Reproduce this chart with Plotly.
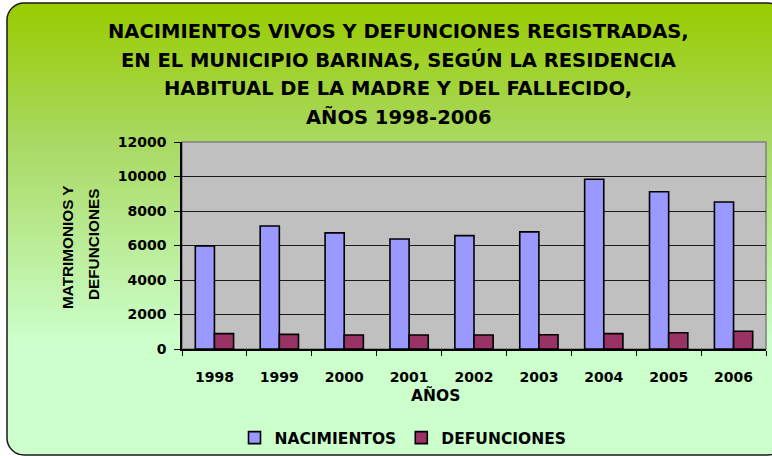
import base64
import plotly.graph_objects as go

# ---- data ----
years = ["1998", "1999", "2000", "2001", "2002", "2003", "2004", "2005", "2006"]
nacimientos = [5980, 7130, 6730, 6380, 6570, 6790, 9840, 9120, 8520]
defunciones = [890, 850, 810, 810, 810, 830, 890, 940, 1030]
series_names = ["NACIMIENTOS", "DEFUNCIONES"]
title_lines = [
    "NACIMIENTOS VIVOS Y DEFUNCIONES REGISTRADAS,",
    "EN EL MUNICIPIO BARINAS, SEGÚN LA RESIDENCIA",
    "HABITUAL DE LA MADRE Y DEL FALLECIDO,",
    "AÑOS 1998-2006",
]
ytitle_lines = ["MATRIMONIOS Y", "DEFUNCIONES"]
xtitle = "AÑOS"

# ---- layout geometry (pixels) ----
W, H = 772, 456
L, R, T, B = 182, 6, 142, 107
PW, PH = W - L - R, H - T - B


def px_x(px):
    return (px - L) / PW


def px_y(py):
    return (H - B - py) / PH


svg = f'''<svg xmlns="http://www.w3.org/2000/svg" width="{W}" height="{H}" viewBox="0 0 {W} {H}" preserveAspectRatio="none">
<defs><linearGradient id="g" x1="0" y1="0" x2="0" y2="1">
<stop offset="0" stop-color="#99cc00"/>
<stop offset="0.3" stop-color="#a8d860"/>
<stop offset="0.75" stop-color="#ccffcc"/>
<stop offset="1" stop-color="#ccffcc"/>
</linearGradient></defs>
<rect x="7" y="3" width="778" height="452" rx="17" ry="17" fill="url(#g)" stroke="#1a1a1a" stroke-width="1.5"/>
</svg>'''
src = "data:image/svg+xml;base64," + base64.b64encode(svg.encode()).decode()

fig = go.Figure()
fig.add_trace(go.Bar(x=years, y=nacimientos, name=series_names[0],
                     marker=dict(color="#9999ff", line=dict(color="black", width=1.6))))
fig.add_trace(go.Bar(x=years, y=defunciones, name=series_names[1],
                     marker=dict(color="#993366", line=dict(color="black", width=1.6))))

annotations = []
title_y = [31, 60, 88, 117]
for txt, yy in zip(title_lines, title_y):
    annotations.append(dict(text=txt, x=px_x(398), y=px_y(yy), xref="paper", yref="paper",
                            xanchor="center", yanchor="middle", showarrow=False,
                            font=dict(family="DejaVu Sans", size=19.5, color="black", weight="bold")))
for txt, xx, yy in zip(ytitle_lines, [67, 93], [247, 245]):
    annotations.append(dict(text=txt, x=px_x(xx), y=px_y(yy), xref="paper", yref="paper",
                            xanchor="center", yanchor="middle", showarrow=False, textangle=-90,
                            font=dict(family="Liberation Sans", size=15.3,
                                      color="black", weight="bold")))
annotations.append(dict(text=xtitle, x=px_x(435), y=px_y(395), xref="paper", yref="paper",
                        xanchor="center", yanchor="middle", showarrow=False,
                        font=dict(family="DejaVu Sans", size=15.5, color="black", weight="bold")))

fig.update_layout(
    width=W, height=H,
    margin=dict(l=L, r=R, t=T, b=B, pad=0, autoexpand=False),
    paper_bgcolor="white",
    plot_bgcolor="rgba(0,0,0,0)",
    barmode="group",
    bargap=0.41,
    bargroupgap=0,
    showlegend=True,
    legend=dict(orientation="h", x=px_x(403), xanchor="center", y=px_y(438), yanchor="middle",
                bgcolor="rgba(0,0,0,0)", itemwidth=30, traceorder="normal",
                font=dict(family="DejaVu Sans", size=15.5, color="black", weight="bold")),
    images=[dict(source=src, xref="paper", yref="paper", x=px_x(0), y=px_y(0),
                 sizex=W / PW, sizey=H / PH, xanchor="left", yanchor="top",
                 sizing="stretch", layer="below")],
    shapes=[dict(type="rect", xref="paper", yref="paper", x0=0, x1=1, y0=0, y1=1,
                 fillcolor="#c0c0c0", line=dict(color="#808080", width=1.5), layer="below")],
    annotations=annotations,
)
fig.update_xaxes(type="category", showline=True, linecolor="black", linewidth=1.5,
                 ticks="outside", tickson="boundaries", ticklen=5, tickcolor="black",
                 ticklabelstandoff=14, automargin=False,
                 tickfont=dict(family="DejaVu Sans", size=14, color="black", weight="bold"),
                 showgrid=False, zeroline=False)
fig.update_yaxes(range=[0, 12000], dtick=2000, tickformat="d", showline=True,
                 linecolor="black", linewidth=1.5, automargin=False,
                 ticks="outside", ticklen=6, tickcolor="black", ticklabelstandoff=5,
                 tickfont=dict(family="DejaVu Sans", size=14, color="black", weight="bold"),
                 showgrid=True, gridcolor="#1a1a1a", gridwidth=1, zeroline=False)

fig.write_html("out.html", config={"displayModeBar": False},
               post_script="document.body.style.margin='0';document.body.style.overflow='hidden';")
